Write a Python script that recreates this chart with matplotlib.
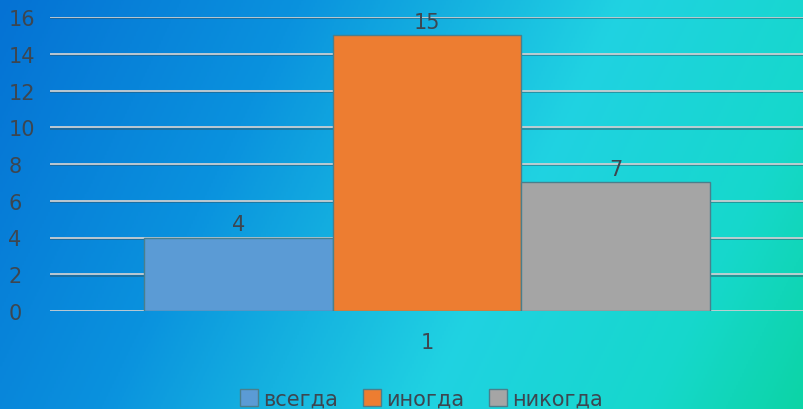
import matplotlib
matplotlib.use('Agg')
import matplotlib.pyplot as plt
import matplotlib.patheffects as pe
import numpy as np
from matplotlib.colors import LinearSegmentedColormap
from matplotlib.patches import Patch

categories = ['всегда', 'иногда', 'никогда']
values = [4, 15, 7]
colors = ['#5b9bd5', '#ed7d31', '#a5a5a5']
group_label = '1'
yticks = [0, 2, 4, 6, 8, 10, 12, 14, 16]

text_color = '#3d4650'
plt.rcParams['font.family'] = ['DejaVu Sans']

fig = plt.figure(figsize=(8.04, 4.10), dpi=100)

# gradient background
bg = fig.add_axes([0, 0, 1, 1], zorder=-10)
gx, gy = np.meshgrid(np.linspace(0, 1, 400), np.linspace(0, 1, 200))
s = 0.8 * gx + 0.2 * gy
cmap = LinearSegmentedColormap.from_list(
    'bg', [(0, '#0572d4'), (0.3, '#0a92de'), (0.62, '#20d2e2'), (0.85, '#16d8cc'), (1.0, '#0cd4a6')])
bg.imshow(s, cmap=cmap, aspect='auto', extent=[0, 1, 0, 1], origin='upper', vmin=0, vmax=1)
bg.axis('off')

ax = fig.add_axes([50 / 804, 98 / 410, 754 / 804, 294 / 410])
ax.patch.set_alpha(0)

width = 0.25
xs = [-width, 0, width]
for x, v, c in zip(xs, values, colors):
    ax.bar(x, v, width=width, color=c, edgecolor='#4a7f8c', linewidth=1, zorder=3)
    ax.text(x, v + 0.2, str(v), ha='center', va='bottom', fontsize=15, color=text_color, zorder=4)

for y in yticks:
    ax.axhline(y, color='#c9ced2', lw=1.3, zorder=1,
               path_effects=[pe.SimpleLineShadow(offset=(0, -1), shadow_color='#305060', alpha=0.5), pe.Normal()])

ax.set_xlim(-0.5, 0.5)
ax.set_ylim(0, 16)
ax.set_yticks(yticks)
ax.set_yticklabels([str(t) for t in yticks], fontsize=15, color=text_color)
for lab in ax.get_yticklabels():
    lab.set_horizontalalignment('left')
ax.tick_params(axis='y', length=0, pad=30)
ax.set_xticks([0])
ax.set_xticklabels([group_label], fontsize=15, color=text_color)
ax.tick_params(axis='x', length=0, pad=15)
for sp in ax.spines.values():
    sp.set_visible(False)

handles = [Patch(facecolor=c, edgecolor='#4a7f8c', label=l) for c, l in zip(colors, categories)]
fig.legend(handles=handles, loc='lower center', bbox_to_anchor=(0.524, -0.045), ncol=3, frameon=False,
           fontsize=15, labelcolor=text_color, handlelength=0.85, handleheight=0.85,
           handletextpad=0.25, columnspacing=1.2)

fig.savefig('out.png', dpi=100)
